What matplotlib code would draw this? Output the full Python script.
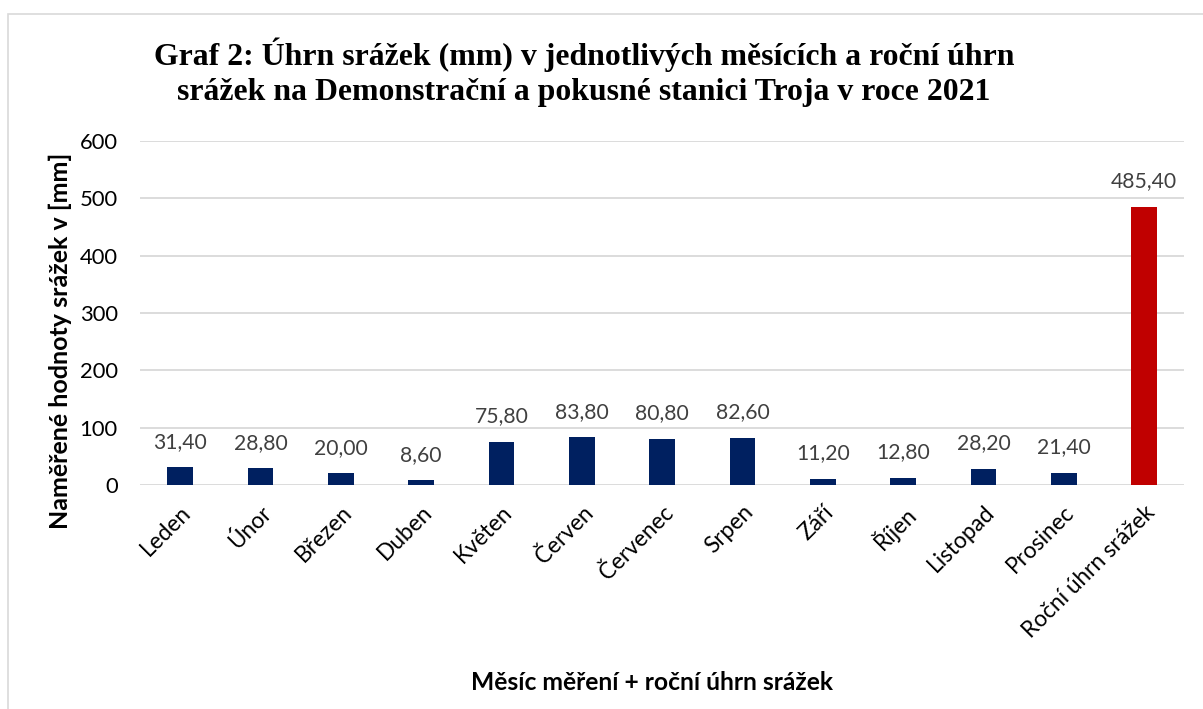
import matplotlib
matplotlib.use('Agg')
import matplotlib.pyplot as plt
from matplotlib.patches import Rectangle

plt.rcParams['font.family'] = ['Lato', 'DejaVu Sans']

mesice = ['Leden', 'Únor', 'Březen', 'Duben', 'Květen', 'Červen', 'Červenec',
          'Srpen', 'Září', 'Říjen', 'Listopad', 'Prosinec', 'Roční úhrn srážek']
srazky = [31.4, 28.8, 20.0, 8.6, 75.8, 83.8, 80.8, 82.6, 11.2, 12.8, 28.2, 21.4, 485.4]
barvy = ['#002060'] * 12 + ['#C00000']
y_ticks = [0, 100, 200, 300, 400, 500, 600]

fig = plt.figure(figsize=(12.03, 7.09), dpi=100)
ax = fig.add_axes([0.1164, 0.316, 0.868, 0.485])

# ramecek grafu
fig.patches.append(Rectangle((0.007, -0.01), 1.0, 0.99, transform=fig.transFigure,
                             fill=False, edgecolor='#D9D9D9', linewidth=1.2))

x = range(len(mesice))
ax.bar(x, srazky, width=0.32, color=barvy, zorder=3)
for i, v in enumerate(srazky):
    ax.annotate(f'{v:.2f}'.replace('.', ','), (i, v), xytext=(0, 11), textcoords='offset points',
                ha='center', va='bottom', fontsize=15.2, color='#404040')

ax.set_xlim(-0.5, len(mesice) - 0.5)
ax.set_ylim(0, 600)
ax.set_yticks(y_ticks)
ax.set_yticklabels([str(t) for t in y_ticks], fontsize=15.8, color='#000000')
ax.set_xticks(list(x))
ax.set_xticklabels(mesice, rotation=45, ha='right', rotation_mode='anchor', fontsize=16.3)
ax.tick_params(axis='y', length=0, pad=16)
ax.tick_params(axis='x', length=0, pad=12)
ax.grid(axis='y', color='#D9D9D9', linewidth=1.3, zorder=0)
for s in ax.spines.values():
    s.set_visible(False)

fig.text(0.050, 0.52, 'Naměřené hodnoty srážek v [mm]', rotation=90, ha='center', va='center',
         fontsize=18, fontweight='bold')
fig.text(0.542, 0.037, 'Měsíc měření + roční úhrn srážek', ha='center', va='center',
         fontsize=17.7, fontweight='bold')

titul = ['Graf 2: Úhrn srážek (mm) v jednotlivých měsících a roční úhrn',
         'srážek na Demonstrační a pokusné stanici Troja v roce 2021']
for radek, yy in zip(titul, [0.908, 0.859]):
    fig.text(0.4855, yy, radek, ha='center', va='baseline', fontsize=22.9, fontweight='bold',
             family=['Liberation Serif', 'DejaVu Serif'])

fig.savefig('out.png', dpi=100)
